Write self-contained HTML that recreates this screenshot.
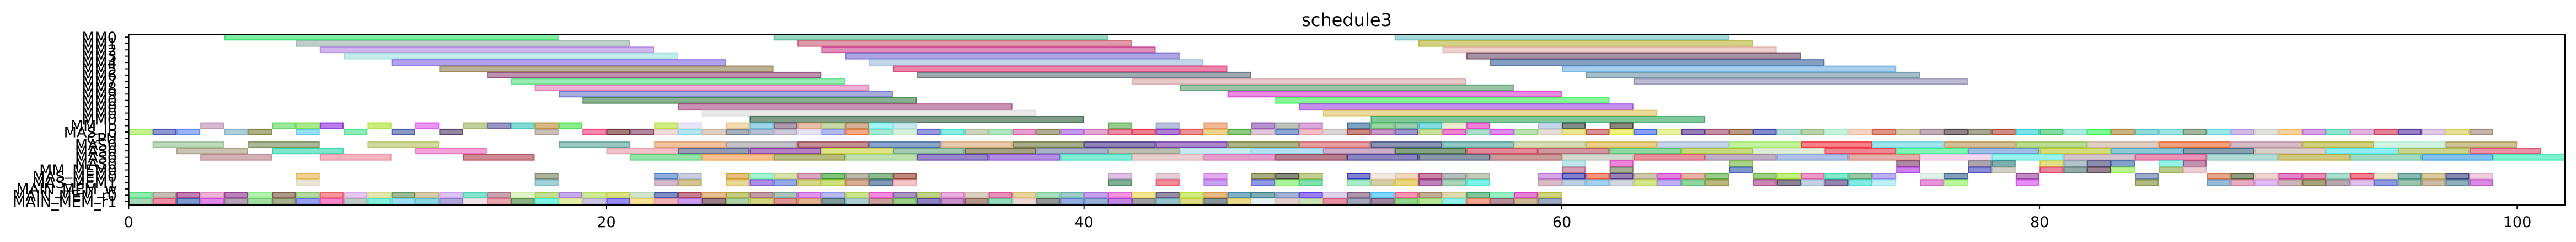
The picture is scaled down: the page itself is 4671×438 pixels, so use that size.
<!DOCTYPE html>
<html><head><meta charset="utf-8">
<style>
html,body{margin:0;padding:0;background:#fff;}
svg{display:block;}
text{font-family:"DejaVu Sans","Liberation Sans",sans-serif;fill:#000;}
</style></head>
<body>
<svg id="s" width="4671" height="438" viewBox="0 0 4671 438" xmlns="http://www.w3.org/2000/svg">
<rect x="0" y="0" width="4671" height="438" fill="#fff"/>
<g id="bars"></g>
<rect x="233.3" y="62.5" width="4417.7" height="308.2" fill="none" stroke="#000" stroke-width="2.6"/>
<g id="ticks" stroke="#000" stroke-width="2"></g>
<text x="2442" y="47" font-size="32" text-anchor="middle">schedule3</text>
<g font-size="27" text-anchor="middle">
<text x="233.3" y="411">0</text>
<text x="1099.5" y="411">20</text>
<text x="1965.7" y="411">40</text>
<text x="2832" y="411">60</text>
<text x="3698.2" y="411">80</text>
<text x="4564.5" y="411">100</text>
</g>
<g font-size="27" text-anchor="end">
<text x="212" y="77">MM0</text>
<text x="212" y="88.4">MM1</text>
<text x="212" y="99.9">MM2</text>
<text x="212" y="111.3">MM3</text>
<text x="212" y="122.8">MM4</text>
<text x="212" y="134.2">MM5</text>
<text x="212" y="145.6">MM6</text>
<text x="212" y="157.1">MM7</text>
<text x="212" y="168.5">MM8</text>
<text x="212" y="180">MM9</text>
<text x="212" y="191.4">MM0</text>
<text x="212" y="202.8">MM0</text>
<text x="212" y="214.3">MM0</text>
<text x="212" y="225.7">MM0</text>
<text x="212" y="237.2">MM_io</text>
<text x="212" y="248.6">MAS_io</text>
<text x="212" y="260">CPU</text>
<text x="212" y="271.5">MAS0</text>
<text x="212" y="282.9">MAS0</text>
<text x="212" y="294.4">MAS0</text>
<text x="212" y="305.8">MAS0</text>
<text x="212" y="317.2">MM_MEM0</text>
<text x="212" y="328.7">MAS_MEM0</text>
<text x="212" y="340.1">MAS_MEM1</text>
<text x="212" y="351.6">MAIN_MEM_w</text>
<text x="212" y="363">MAIN_MEM_r0</text>
<text x="212" y="374.4">MAIN_MEM_r1</text>
</g>
</svg>
<script>
(function(){
var X=function(d){return 233.3+43.31*d;};
var Y=function(i){return 67.3+11.44*i;};
var seed=7;function rnd(){seed=(seed*16807)%2147483647;return seed/2147483647;}
function col(){var r=Math.floor(rnd()*220+20),g=Math.floor(rnd()*220+20),b=Math.floor(rnd()*220+20);return 'rgb('+r+','+g+','+b+')';}
var out=[];
function bar(row,s,len,h){h=h||12;var c=col();
out.push('<rect x="'+(X(s)+1).toFixed(1)+'" y="'+(Y(row)-h/2+1).toFixed(1)+'" width="'+(43.31*len-2).toFixed(1)+'" height="'+(h-2)+'" fill="'+c+'" fill-opacity="0.55" stroke="'+c+'" stroke-opacity="0.75" stroke-width="2"/>');}
function cells(row,list){list.forEach(function(k){bar(row,k,1);});}
function range(a,b){var r=[];for(var i=a;i<=b;i++)r.push(i);return r;}
// MM bars
var s1=[4,7,8,9,11,13,15,16,17,18,19,23,24,26];
var s2=[27,28,29,30,31,32,33,42,44,46,48,49,50,52];
var s3=[53,54,55,56,57,60,61,63];
for(var i=0;i<14;i++){bar(i,s1[i],14);bar(i,s2[i],14);if(i<8)bar(i,s3[i],14);}
// row14
cells(14,[3,6,7,8,10,12,14,15,16,17,18,22,23,25,26,27,28,29,30,31,32,41,43,45,47,48,49,51,52,53,54,55,56,59,60,62]);
// row15
cells(15,[0,1,2,4,5,7,9,11,13,17,19,20,21,22,23,24,25,26].concat(range(27,98)));
// row17
[1,5,10,18,22,25,28,31,34,37,40,43,46,49,52,55,58,61,64,67,70,73,76,79,82,85,88,91,94,97].forEach(function(s){bar(17,s,3);});
// row18
[2,6,12,20,23,26,29,32,35,38,41,44,47,50,53,56,59,62,65,68,71,74,77,80,83,86,89,92,95,98].forEach(function(s){bar(18,s,3);});
// row19
[3,8,14,21,24,27,30,33,36,39,42,45,48,51,54,57,60,63,66,69,72,75,78,81,84,87,90,93,96,99].forEach(function(s){bar(19,s,3);});
// rows 20,21
var r20=[60,62,67,74,77,78,80,81,82,83,85,86];
cells(20,r20);cells(21,r20);
// rows 22,23
var r22=[7,17,22,23,25,26,27,28,29,30,31,32,41,43,45,47,48,49,51,52,53,54,55,56].concat(range(59,66),range(68,73),[75,76,79,84],range(87,98));
cells(22,r22);cells(23,r22);
// rows 25,26
cells(25,range(0,59));cells(26,range(0,59));
document.getElementById('bars').innerHTML=out.join('');
var t=[];
for(var i=0;i<27;i++){t.push('<line x1="226" y1="'+Y(i).toFixed(1)+'" x2="233" y2="'+Y(i).toFixed(1)+'"/>');}
[0,20,40,60,80,100].forEach(function(d){t.push('<line x1="'+X(d).toFixed(1)+'" y1="371" x2="'+X(d).toFixed(1)+'" y2="378"/>');});
document.getElementById('ticks').innerHTML=t.join('');
})();
</script>
</body></html>
